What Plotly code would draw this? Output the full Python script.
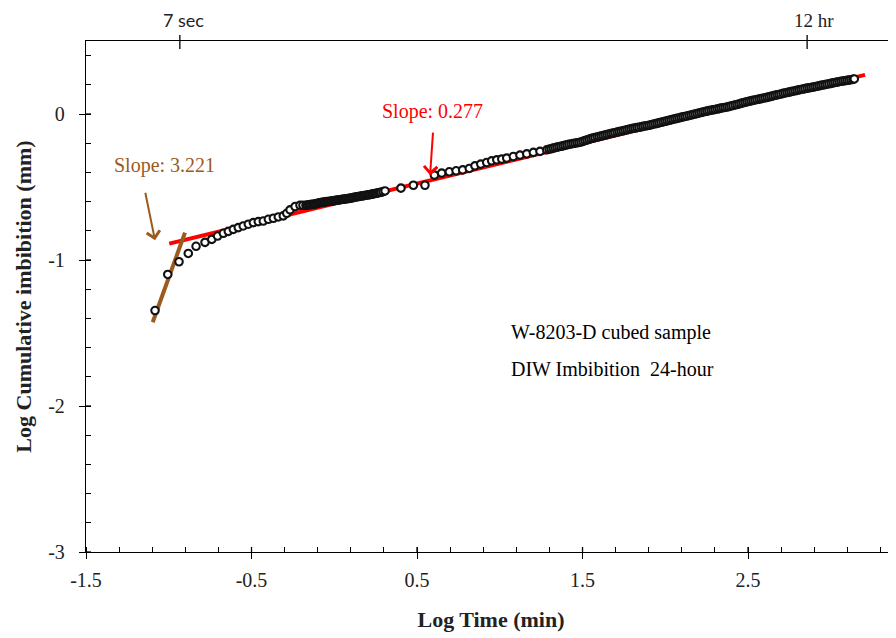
import plotly.graph_objects as go

# ---------------- data ----------------
log_time = [
    # early, well separated points
    -1.083, -1.006, -0.938, -0.882, -0.835, -0.781, -0.740, -0.705, -0.670, -0.640,
    -0.610, -0.580, -0.550, -0.519, -0.489, -0.459, -0.429, -0.398, -0.368, -0.338,
    -0.308, -0.287, -0.267, -0.237,
    # dense band
    -0.207, -0.189, -0.171, -0.162, -0.153, -0.144, -0.134, -0.125, -0.116, -0.107,
    -0.098, -0.089, -0.080, -0.071, -0.062, -0.053, -0.044, -0.035, -0.026, -0.017,
    -0.008, 0.002, 0.011, 0.020, 0.029, 0.038, 0.047, 0.056, 0.065, 0.074,
    0.083, 0.092, 0.101, 0.110, 0.119, 0.129, 0.138, 0.147, 0.156, 0.165,
    0.174, 0.183, 0.192, 0.201, 0.210, 0.219, 0.228, 0.237, 0.246, 0.255,
    0.264, 0.274, 0.283, 0.295, 0.307,
    # sparse stretch
    0.403, 0.478, 0.548,
    0.605, 0.649, 0.695, 0.736, 0.776, 0.816, 0.850, 0.885, 0.921, 0.951,
    0.982, 1.012, 1.042, 1.082, 1.122, 1.163, 1.203, 1.243, 1.284,
    # dense band to the end
    1.298, 1.310, 1.322, 1.334, 1.346, 1.358, 1.370, 1.382, 1.394, 1.406,
    1.418, 1.431, 1.443, 1.455, 1.467, 1.479, 1.491, 1.503, 1.515, 1.527,
    1.539, 1.551, 1.563, 1.575, 1.588, 1.600, 1.612, 1.624, 1.636, 1.648,
    1.660, 1.672, 1.684, 1.696, 1.709, 1.721, 1.733, 1.745, 1.757, 1.769,
    1.781, 1.793, 1.805, 1.817, 1.829, 1.841, 1.854, 1.866, 1.878, 1.890,
    1.902, 1.914, 1.926, 1.938, 1.950, 1.962, 1.974, 1.987, 1.999, 2.011,
    2.023, 2.035, 2.047, 2.059, 2.071, 2.083, 2.095, 2.107, 2.119, 2.131,
    2.144, 2.156, 2.168, 2.180, 2.192, 2.204, 2.216, 2.228, 2.240, 2.252,
    2.264, 2.277, 2.289, 2.301, 2.313, 2.325, 2.337, 2.349, 2.361, 2.373,
    2.385, 2.397, 2.409, 2.422, 2.434, 2.446, 2.458, 2.470, 2.482, 2.494,
    2.506, 2.518, 2.530, 2.542, 2.554, 2.567, 2.579, 2.591, 2.603, 2.615,
    2.627, 2.639, 2.651, 2.663, 2.675, 2.687, 2.699, 2.712, 2.724, 2.736,
    2.748, 2.760, 2.772, 2.784, 2.796, 2.808, 2.820, 2.832, 2.844, 2.857,
    2.869, 2.881, 2.893, 2.905, 2.917, 2.929, 2.941, 2.953, 2.965, 2.977,
    2.989, 3.002, 3.014, 3.026, 3.038, 3.050, 3.062, 3.074, 3.086, 3.098,
    3.110, 3.122, 3.134, 3.142,
]
log_imbibition = [
    -1.346, -1.099, -1.012, -0.955, -0.906, -0.879, -0.859, -0.836, -0.817, -0.804,
    -0.790, -0.778, -0.767, -0.755, -0.744, -0.737, -0.733, -0.721, -0.714, -0.705,
    -0.698, -0.680, -0.657, -0.634,
    -0.625, -0.625, -0.625, -0.624, -0.622, -0.621, -0.619, -0.618, -0.617, -0.614,
    -0.611, -0.609, -0.606, -0.605, -0.603, -0.602, -0.600, -0.599, -0.598, -0.597,
    -0.595, -0.593, -0.591, -0.590, -0.588, -0.587, -0.585, -0.584, -0.582, -0.581,
    -0.579, -0.578, -0.576, -0.574, -0.571, -0.569, -0.567, -0.565, -0.563, -0.562,
    -0.560, -0.558, -0.556, -0.555, -0.553, -0.551, -0.549, -0.547, -0.545, -0.543,
    -0.540, -0.538, -0.536, -0.532, -0.527,
    -0.508, -0.488, -0.488,
    -0.419, -0.405, -0.396, -0.389, -0.383, -0.373, -0.355, -0.343, -0.332, -0.321,
    -0.314, -0.309, -0.302, -0.291, -0.282, -0.273, -0.263, -0.256, -0.245,
    -0.241, -0.238, -0.234, -0.231, -0.227, -0.224, -0.221, -0.218, -0.214, -0.211,
    -0.207, -0.205, -0.202, -0.200, -0.197, -0.195, -0.192, -0.187, -0.182, -0.178,
    -0.173, -0.169, -0.165, -0.162, -0.158, -0.155, -0.151, -0.148, -0.144, -0.141,
    -0.137, -0.134, -0.131, -0.128, -0.124, -0.121, -0.118, -0.115, -0.111, -0.108,
    -0.104, -0.101, -0.098, -0.096, -0.093, -0.091, -0.088, -0.085, -0.082, -0.080,
    -0.077, -0.074, -0.070, -0.067, -0.064, -0.061, -0.057, -0.054, -0.050, -0.047,
    -0.043, -0.040, -0.036, -0.033, -0.030, -0.027, -0.023, -0.020, -0.017, -0.014,
    -0.010, -0.007, -0.003, 0.000, 0.003, 0.007, 0.010, 0.014, 0.017, 0.020,
    0.023, 0.026, 0.028, 0.031, 0.034, 0.037, 0.040, 0.043, 0.045, 0.048,
    0.051, 0.055, 0.058, 0.062, 0.065, 0.069, 0.073, 0.077, 0.080, 0.084,
    0.087, 0.090, 0.093, 0.096, 0.099, 0.102, 0.105, 0.108, 0.111, 0.114,
    0.117, 0.121, 0.124, 0.128, 0.131, 0.134, 0.137, 0.141, 0.144, 0.147,
    0.150, 0.153, 0.156, 0.159, 0.162, 0.165, 0.168, 0.171, 0.174, 0.177,
    0.179, 0.182, 0.184, 0.187, 0.190, 0.193, 0.196, 0.199, 0.201, 0.204,
    0.207, 0.210, 0.213, 0.216, 0.218, 0.221, 0.224, 0.226, 0.228, 0.230,
    0.232, 0.235, 0.237, 0.240,
]

# fitted lines (end points)
late_fit_x = [-0.997, 3.207]
late_fit_y = [-0.888, 0.268]
early_fit_x = [-1.097, -0.902]
early_fit_y = [-1.426, -0.8125]

late_slope_label = "Slope: 0.277"
early_slope_label = "Slope: 3.221"
sample_lines = ["W-8203-D cubed sample", "DIW Imbibition\u00a0 24-hour"]

x_tick_vals = [-1.5, -0.5, 0.5, 1.5, 2.5]
x_tick_text = ["-1.5", "-0.5", "0.5", "1.5", "2.5"]
y_tick_vals = [0, -1, -2, -3]
y_tick_text = ["0", "-1", "-2", "-3"]
top_tick_vals = [-0.933, 2.857]          # log10(7 s in min), log10(12 h in min)
top_tick_text = ["7 sec", "12 hr"]

X_RANGE = [-1.5, 3.394]
Y_RANGE = [-3, 0.5]

SERIF = "Liberation Serif"
RED = "#FF0000"
BROWN = "#9C5A1C"
TXT = "#222222"

fig = go.Figure()
fig.add_trace(go.Scatter(x=late_fit_x, y=late_fit_y, mode="lines",
                         line=dict(color=RED, width=4), showlegend=False, hoverinfo="skip"))
fig.add_trace(go.Scatter(x=early_fit_x, y=early_fit_y, mode="lines",
                         line=dict(color=BROWN, width=4), showlegend=False, hoverinfo="skip"))
fig.add_trace(go.Scatter(x=log_time, y=log_imbibition, mode="markers",
                         marker=dict(symbol="circle", size=7.5, color="white",
                                     line=dict(color="#111111", width=2.1)),
                         showlegend=False))

axis_common = dict(showgrid=False, zeroline=False, linecolor="black", linewidth=1.3,
                   tickcolor="black", tickwidth=1.3, automargin=False, showline=True)

shapes = []
# inner halves of the major ticks (ticks cross the axis line in the reference)
for v in x_tick_vals:
    shapes.append(dict(type="line", xref="x", yref="paper", ysizemode="pixel", yanchor=0,
                       x0=v, x1=v, y0=0, y1=5, line=dict(color="black", width=1.3)))
for v in y_tick_vals:
    shapes.append(dict(type="line", yref="y", xref="paper", xsizemode="pixel", xanchor=0,
                       y0=v, y1=v, x0=0, x1=5, line=dict(color="black", width=1.3)))
# top axis ticks (7 sec, 12 hr), crossing the top line
for v in top_tick_vals:
    shapes.append(dict(type="line", xref="x", yref="paper", ysizemode="pixel", yanchor=1,
                       x0=v, x1=v, y0=-8, y1=6, line=dict(color="black", width=1.3)))

annotations = [
    dict(x=top_tick_vals[0], y=1, xref="x", yref="paper", yanchor="bottom", yshift=8,
         xshift=4, text=top_tick_text[0], showarrow=False,
         font=dict(family="Lato", size=18, color=TXT)),
    dict(x=top_tick_vals[1], y=1, xref="x", yref="paper", yanchor="bottom", yshift=8,
         xshift=7, text=top_tick_text[1], showarrow=False,
         font=dict(family=SERIF, size=19, color=TXT)),
    dict(x=0.591, y=0.014, xref="x", yref="y", text=late_slope_label, showarrow=False,
         font=dict(family=SERIF, size=20, color=RED)),
    dict(x=-1.023, y=-0.350, xref="x", yref="y", text=early_slope_label, showarrow=False,
         font=dict(family=SERIF, size=20, color=BROWN)),
    dict(x=1.055, y=-1.497, xref="x", yref="y", xanchor="left", text=sample_lines[0],
         showarrow=False, font=dict(family=SERIF, size=20, color="black")),
    dict(x=1.055, y=-1.745, xref="x", yref="y", xanchor="left", text=sample_lines[1],
         showarrow=False, font=dict(family=SERIF, size=20, color="black")),
    dict(x=0.579, y=-0.419, xref="x", yref="y", ax=3, ay=-44, text="", showarrow=True,
         arrowhead=4, arrowsize=1.3, arrowwidth=2, arrowcolor=RED, standoff=0),
    dict(x=-1.083, y=-0.865, xref="x", yref="y", ax=-10, ay=-49, text="", showarrow=True,
         arrowhead=4, arrowsize=1.3, arrowwidth=2, arrowcolor=BROWN, standoff=0),
]

# the page body has an 8 px margin, so the margins are reduced by 8 px to keep
# the plot area at the reference position
fig.update_layout(
    width=896, height=638,
    margin=dict(l=78, r=8, t=33, b=94),
    paper_bgcolor="white", plot_bgcolor="white",
    font=dict(family=SERIF, color=TXT),
    showlegend=False,
    xaxis=dict(range=X_RANGE, tickmode="array", tickvals=x_tick_vals, ticktext=x_tick_text,
               ticks="outside", ticklen=6, mirror=True,
               minor=dict(ticks="inside", ticklen=5, dtick=0.2, tick0=-1.5,
                          tickcolor="black", tickwidth=1.2),
               tickfont=dict(family=SERIF, size=20, color=TXT), ticklabelstandoff=4,
               title=dict(text="Log Time (min)", standoff=21,
                          font=dict(family=SERIF, size=22, color=TXT, weight="bold")),
               **axis_common),
    yaxis=dict(range=Y_RANGE, tickmode="array", tickvals=y_tick_vals, ticktext=y_tick_text,
               ticks="outside", ticklen=6,
               minor=dict(ticks="inside", ticklen=5, dtick=0.2, tick0=0,
                          tickcolor="black", tickwidth=1.2),
               tickfont=dict(family=SERIF, size=20, color=TXT), ticklabelstandoff=10,
               title=dict(text="Log Cumulative imbibition (mm)", standoff=10,
                          font=dict(family=SERIF, size=22, color=TXT, weight="bold")),
               **axis_common),
    shapes=shapes,
    annotations=annotations,
)

fig.write_html("out.html")
